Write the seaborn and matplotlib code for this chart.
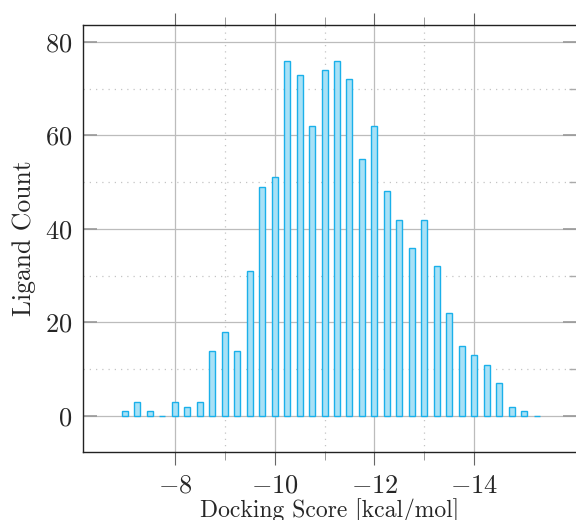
import matplotlib
matplotlib.use("Agg")
import matplotlib.pyplot as plt
import seaborn as sns
import numpy as np
import pandas as pd
from matplotlib.ticker import FixedLocator

# Docking score bins (kcal/mol) and ligand counts
scores = [-7.0, -7.25, -7.5, -7.75, -8.0, -8.25, -8.5, -8.75, -9.0, -9.25,
          -9.5, -9.75, -10.0, -10.25, -10.5, -10.75, -11.0, -11.25, -11.5, -11.75,
          -12.0, -12.25, -12.5, -12.75, -13.0, -13.25, -13.5, -13.75, -14.0, -14.25,
          -14.5, -14.75, -15.0, -15.25]
counts = [1, 3, 1, 0, 3, 2, 3, 14, 18, 14,
          31, 49, 51, 76, 73, 62, 74, 76, 72, 55,
          62, 48, 42, 36, 42, 32, 22, 15, 13, 11,
          7, 2, 1, 0]
xticks = [-8, -10, -12, -14]
xminor = [-9, -11, -13]
yticks = [0, 20, 40, 60, 80]
yminor = [10, 30, 50, 70]

df = pd.DataFrame({"score": scores, "count": counts})

sns.set_style("white")
plt.rcParams["font.family"] = ["cmr10", "DejaVu Serif"]
plt.rcParams["mathtext.fontset"] = "cm"
plt.rcParams["axes.formatter.use_mathtext"] = True

fig = plt.figure(figsize=(5.76, 5.2), dpi=100)
ax = fig.add_axes([83 / 576, 68 / 520, 494 / 576, 427 / 520])

sns.histplot(data=df, x="score", weights="count",
             binwidth=0.25, binrange=(min(scores) - 0.125, max(scores) + 0.125),
             shrink=0.48, color="#a8e1f6", edgecolor="#1ab0ea",
             linewidth=1.0, alpha=1.0, ax=ax, zorder=3)

ax.set_xlim(-6.16, -16.06)
ax.set_ylim(-7.7, 83.6)
ax.set_xticks(xticks)
ax.set_xticklabels([f"$-{abs(v)}$" for v in xticks])
ax.set_yticks(yticks)
ax.set_yticklabels([f"${v}$" for v in yticks])
ax.xaxis.set_minor_locator(FixedLocator(xminor))
ax.yaxis.set_minor_locator(FixedLocator(yminor))

ax.grid(which="major", color="#bcbcbc", linewidth=0.9, linestyle="-", zorder=0)
ax.grid(which="minor", color="#c4c4c4", linewidth=0.9, linestyle=(0, (1, 4)), zorder=0)
ax.set_axisbelow(True)

ax.tick_params(axis="x", which="major", direction="out", length=9, width=0.8,
               color="#666666", top=True, bottom=True, labelsize=19, pad=7)
ax.tick_params(axis="x", which="minor", direction="out", length=6, width=0.6,
               color="#888888", top=True, bottom=True)
ax.tick_params(axis="y", which="major", direction="in", length=10, width=1.2,
               color="#999999", left=True, right=True, labelsize=19, pad=8)
ax.tick_params(axis="y", which="minor", direction="in", length=6, width=1.0,
               color="#aaaaaa", left=False, right=True)

for s in ax.spines.values():
    s.set_color("#222222")
    s.set_linewidth(1.0)

ax.set_xlabel("Docking Score [kcal/mol]", fontsize=17, labelpad=0)
ax.set_ylabel("Ligand Count", fontsize=18.5, labelpad=6)

fig.savefig("out.png", dpi=100)
